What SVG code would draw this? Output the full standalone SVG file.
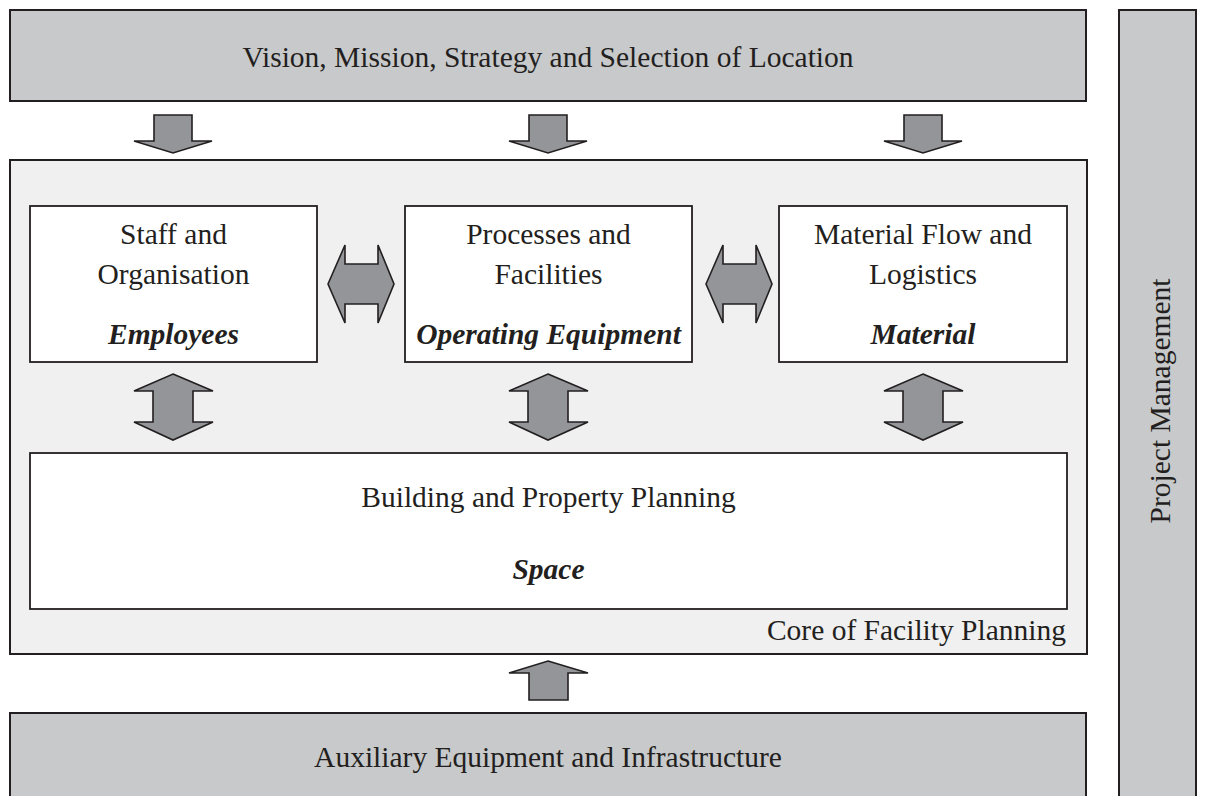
<svg xmlns="http://www.w3.org/2000/svg" width="1206" height="796" viewBox="0 0 1206 796">
<style>
.grey{fill:#c8c9cb;stroke:#231f20;stroke-width:2}
.core{fill:#f0f0f0;stroke:#231f20;stroke-width:2}
.box{fill:#ffffff;stroke:#231f20;stroke-width:1.8}
.arr{fill:#939598;stroke:#231f20;stroke-width:1.6;stroke-linejoin:miter}
text{font-family:"Liberation Serif","Times New Roman",serif;font-size:29.5px;fill:#231f20}
.c{text-anchor:middle}
.bi{font-weight:bold;font-style:italic}
</style>
<rect width="1206" height="796" fill="#ffffff"/>
<g id="vision">
<rect class="grey" x="10" y="10" width="1076" height="91"/>
<text class="c" x="548" y="67">Vision, Mission, Strategy and Selection of Location</text>
</g>
<g id="project-management">
<rect class="grey" x="1119" y="10" width="77" height="800"/>
<text class="c" transform="translate(1170,401) rotate(-90)">Project Management</text>
</g>
<g id="core">
<rect class="core" x="10" y="160" width="1077" height="494"/>
<text x="1066" y="640" text-anchor="end">Core of Facility Planning</text>
</g>
<g id="staff">
<rect class="box" x="30" y="206" width="287" height="156"/>
<text class="c" x="173.5" y="244">Staff and</text>
<text class="c" x="173.5" y="284">Organisation</text>
<text class="c bi" x="173.5" y="344">Employees</text>
</g>
<g id="processes">
<rect class="box" x="405" y="206" width="287" height="156"/>
<text class="c" x="548.5" y="244">Processes and</text>
<text class="c" x="548.5" y="284">Facilities</text>
<text class="c bi" x="548.5" y="344">Operating Equipment</text>
</g>
<g id="material">
<rect class="box" x="779" y="206" width="288" height="156"/>
<text class="c" x="923" y="244">Material Flow and</text>
<text class="c" x="923" y="284">Logistics</text>
<text class="c bi" x="923" y="344">Material</text>
</g>
<g id="building">
<rect class="box" x="30" y="453" width="1037" height="156"/>
<text class="c" x="548.5" y="507">Building and Property Planning</text>
<text class="c bi" x="548.5" y="579">Space</text>
</g>
<g id="auxiliary">
<rect class="grey" x="10" y="713" width="1076" height="100"/>
<text class="c" x="548" y="767">Auxiliary Equipment and Infrastructure</text>
</g>
<g id="connectors">
<polygon class="arr" points="154,115 192,115 192,141 212,141 173,153 134,141 154,141"/>
<polygon class="arr" points="529,115 567,115 567,141 587,141 548,153 509,141 529,141"/>
<polygon class="arr" points="904,115 942,115 942,141 962,141 923,153 884,141 904,141"/>
<polygon class="arr" points="328,284 345,245 345,264 378,264 378,245 394,284 378,323 378,304 345,304 345,323"/>
<polygon class="arr" points="706,284 723,245 723,264 756,264 756,245 772,284 756,323 756,304 723,304 723,323"/>
<polygon class="arr" points="173,374 213,391 193,391 193,422 213,422 173,440 134,422 153,422 153,391 134,391"/>
<polygon class="arr" points="548,374 588,391 568,391 568,422 588,422 548,440 509,422 528,422 528,391 509,391"/>
<polygon class="arr" points="923,374 963,391 943,391 943,422 963,422 923,440 884,422 903,422 903,391 884,391"/>
<polygon class="arr" points="548,661 588,673 568,673 568,700 529,700 529,673 509,673"/>
</g>
</svg>
